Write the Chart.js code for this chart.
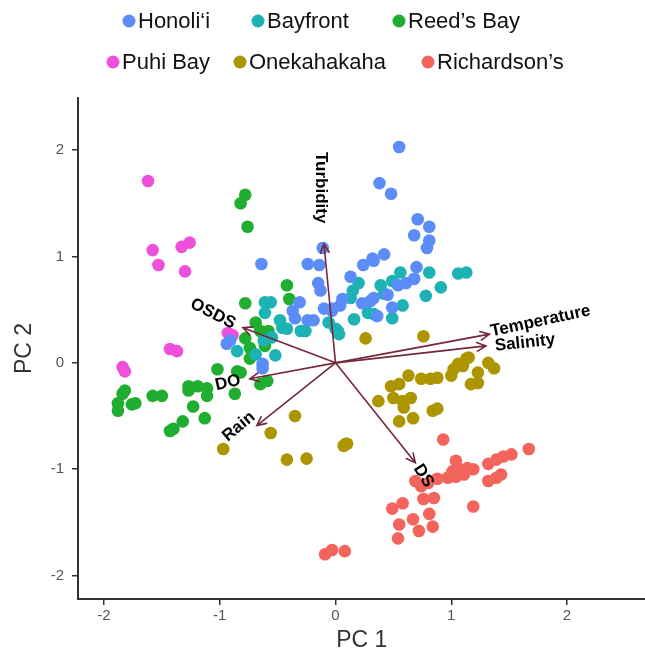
<!DOCTYPE html>
<html>
<head>
<meta charset="utf-8">
<script src="https://cdn.jsdelivr.net/npm/chart.js@4.4.1/dist/chart.umd.min.js"></script>
<style>
  html, body { margin: 0; padding: 0; background: #fff; overflow: hidden; }
  #pca { display: block; }
</style>
</head>
<body>
<canvas id="pca" width="652" height="656"></canvas>
<script>
// sites
var sites = ['Honoli\u2018i', 'Bayfront', 'Reed\u2019s Bay', 'Puhi Bay', 'Onekahakaha', 'Richardson\u2019s'];
var siteColors = ['#5b8cf7', '#1db3b5', '#1fae2f', '#ee4fdb', '#ad9500', '#f2645c'];

// sample scores (PC1 / PC2)
var honoliiX = [0.55,0.38,0.48,0.71,0.81,0.68,0.81,0.79,-0.11,0.42,0.32,-0.64,-0.24,-0.14,-0.15,-0.13,-0.31,-0.37,-0.35,-0.24,-0.19,-0.10,-0.03,-0.91,-0.94,-0.63,-0.63,0.33,0.24,0.13,0.70,0.68,0.61,0.54,0.33,0.30,0.23,0.04,-0.03,0.49,0.36,0.45,0.06];
var honoliiY = [2.03,1.69,1.59,1.35,1.28,1.20,1.15,1.08,1.08,1.02,0.98,0.93,0.93,0.92,0.75,0.68,0.57,0.49,0.42,0.40,0.40,0.51,0.51,0.21,0.18,-0.01,-0.05,0.96,0.92,0.81,0.90,0.79,0.75,0.73,0.61,0.58,0.56,0.54,0.49,0.52,0.44,0.64,0.60];
var bayfrontX = [0.81,1.06,1.13,0.91,0.78,0.56,0.49,0.39,0.42,0.20,0.15,0.13,0.58,0.28,0.33,0.49,0.16,0.00,0.03,-0.61,-0.56,-0.61,-0.48,-0.46,-0.42,-0.30,-0.26,-0.06,0.02,-0.55,-0.62,-0.85,-0.52,-0.69];
var bayfrontY = [0.85,0.84,0.85,0.71,0.63,0.85,0.77,0.73,0.65,0.75,0.68,0.61,0.54,0.47,0.46,0.42,0.41,0.32,0.27,0.57,0.57,0.47,0.40,0.33,0.32,0.30,0.30,0.38,0.30,0.24,0.21,0.11,0.07,0.08];
var reedsX = [-0.78,-0.82,-0.76,-0.42,-0.40,-0.78,-0.69,-0.78,-0.65,-0.58,-0.74,-0.61,-0.74,-1.02,-0.85,-1.84,-1.82,-1.73,-1.88,-1.88,-1.76,-1.58,-1.50,-1.27,-1.27,-1.19,-1.11,-1.11,-0.87,-1.23,-1.13,-1.32,-1.40,-1.43,-0.65,-0.59,-0.82];
var reedsY = [1.58,1.50,1.28,0.73,0.60,0.56,0.38,0.23,0.30,0.30,0.14,0.16,0.04,-0.06,-0.08,-0.29,-0.26,-0.38,-0.38,-0.45,-0.39,-0.31,-0.31,-0.22,-0.26,-0.22,-0.24,-0.31,-0.29,-0.41,-0.52,-0.55,-0.62,-0.64,-0.20,-0.17,-0.09];
var puhiX = [-1.62,-1.58,-1.53,-1.33,-1.26,-1.30,-0.93,-0.89,-1.84,-1.82,-1.43,-1.37];
var puhiY = [1.71,1.06,0.92,1.09,1.13,0.86,0.28,0.26,-0.04,-0.08,0.13,0.11];
var onekaX = [-0.97,-0.56,-0.35,-0.42,-0.25,0.09,0.10,0.07,0.26,0.76,0.37,0.48,0.55,0.50,0.58,0.65,0.59,0.63,0.74,0.82,0.88,1.00,1.02,1.06,1.13,1.15,1.23,1.23,1.17,1.32,1.37,0.84,0.88,0.55,0.67,1.10];
var onekaY = [-0.81,-0.66,-0.50,-0.91,-0.90,-0.76,-0.76,-0.78,0.23,0.25,-0.36,-0.22,-0.20,-0.33,-0.36,-0.33,-0.42,-0.12,-0.15,-0.15,-0.14,-0.12,-0.06,-0.01,0.04,0.05,-0.09,-0.19,-0.20,0.00,-0.05,-0.45,-0.43,-0.55,-0.52,-0.03];
var richX = [-0.09,-0.03,0.08,0.93,0.69,0.74,0.80,0.88,0.97,1.01,1.06,1.14,1.11,1.04,1.19,1.32,1.39,1.45,1.52,1.32,1.39,1.43,0.76,0.85,0.49,0.58,0.81,1.19,0.67,0.55,0.84,0.72,0.54,1.67,1.04];
var richY = [-1.80,-1.76,-1.77,-0.72,-1.11,-1.16,-1.13,-1.09,-1.08,-1.02,-0.99,-0.99,-1.05,-1.07,-1.00,-0.95,-0.91,-0.88,-0.86,-1.11,-1.08,-1.05,-1.28,-1.27,-1.37,-1.32,-1.42,-1.35,-1.47,-1.52,-1.54,-1.58,-1.65,-0.81,-0.92];

// variable loadings (arrows)
var vars = ['Turbidity', 'OSDS', 'DO', 'Rain', 'Temperature', 'Salinity', 'DS'];
var loadPC1 = [-0.10, -0.80, -0.74, -0.68, 1.33, 1.30, 0.69];
var loadPC2 = [1.12, 0.33, -0.15, -0.59, 0.27, 0.16, -0.94];

// axis ticks
var xTicks = [-2, -1, 0, 1, 2];
var yTicks = [-2, -1, 0, 1, 2];

// label placement (pixels from arrow tip, degrees)
var labelDx = [-3, -30, -22, -18, 51, 39, 8];
var labelDy = [-56, -14, 4, 1, -13, -3, 13];
var labelRot = [90, 27, -13, -40, -12, -6, 58];

var siteXs = [honoliiX, bayfrontX, reedsX, puhiX, onekaX, richX];
var siteYs = [honoliiY, bayfrontY, reedsY, puhiY, onekaY, richY];

var datasets = sites.map(function(name, i){
	return {
		label: name,
		data: siteXs[i].map(function(x, j){ return {x: x, y: siteYs[i][j]}; }),
		backgroundColor: siteColors[i],
		borderWidth: 0,
		pointRadius: 6.3,
		pointHoverRadius: 6.3
	};
});

var arrowColor = '#74283a';

var biplot = {
	id: 'biplot',
	afterDatasetsDraw: function(chart){
		var c = chart.ctx, xs = chart.scales.x, ys = chart.scales.y;
		var ox = xs.getPixelForValue(0), oy = ys.getPixelForValue(0);
		c.save();
		c.strokeStyle = arrowColor;
		c.lineWidth = 1.6;
		c.lineCap = 'round';
		vars.forEach(function(v, i){
			var tx = xs.getPixelForValue(loadPC1[i]), ty = ys.getPixelForValue(loadPC2[i]);
			var a = Math.atan2(ty - oy, tx - ox), h = 10, w = 0.45;
			c.beginPath();
			c.moveTo(ox, oy); c.lineTo(tx, ty);
			c.moveTo(tx - h * Math.cos(a - w), ty - h * Math.sin(a - w));
			c.lineTo(tx, ty);
			c.lineTo(tx - h * Math.cos(a + w), ty - h * Math.sin(a + w));
			c.stroke();
		});
		c.fillStyle = '#000';
		c.font = 'bold 17px "Liberation Sans", Arial, sans-serif';
		c.textAlign = 'center';
		c.textBaseline = 'middle';
		vars.forEach(function(v, i){
			var tx = xs.getPixelForValue(loadPC1[i]), ty = ys.getPixelForValue(loadPC2[i]);
			c.save();
			c.translate(tx + labelDx[i], ty + labelDy[i]);
			c.rotate(labelRot[i] * Math.PI / 180);
			c.fillText(v, 0, 0);
			c.restore();
		});
		c.restore();
	},
	afterDraw: function(chart){
		// legend, two rows like the original
		var c = chart.ctx;
		var pos = [[129, 21], [258, 21], [399, 21], [113, 62], [240, 62], [428, 62]];
		c.save();
		c.font = '22px "Liberation Sans", Arial, sans-serif';
		c.textBaseline = 'middle';
		c.textAlign = 'left';
		sites.forEach(function(s, i){
			c.fillStyle = siteColors[i];
			c.beginPath();
			c.arc(pos[i][0], pos[i][1], 6.5, 0, Math.PI * 2);
			c.fill();
			c.fillStyle = '#111';
			c.fillText(s, pos[i][0] + 9, pos[i][1] + 1);
		});
		c.restore();
	}
};

var axisFont = {family: '"Liberation Sans", Arial, sans-serif', size: 15};
var titleFont = {family: '"Liberation Sans", Arial, sans-serif', size: 23};

var chart = new Chart(document.getElementById('pca').getContext('2d'), {
	type: 'scatter',
	data: {datasets: datasets},
	options: {
		responsive: false,
		animation: false,
		events: [],
		layout: {padding: {top: 98, right: 0, left: 0, bottom: 0}},
		plugins: {legend: {display: false}, tooltip: {enabled: false}},
		scales: {
			x: {
				type: 'linear', min: -2.225, max: 2.68,
				afterBuildTicks: function(s){ s.ticks = xTicks.map(function(v){ return {value: v}; }); },
				afterFit: function(s){ s.height = 57; },
				grid: {drawOnChartArea: false, drawTicks: true, tickLength: 6, color: '#333', lineWidth: 1.5},
				border: {display: true, color: '#333', width: 2},
				ticks: {color: '#555', font: axisFont, padding: 2, maxRotation: 0},
				title: {display: true, text: 'PC 1', color: '#333', font: titleFont, padding: {top: 0, bottom: 2}}
			},
			y: {
				type: 'linear', min: -2.22, max: 2.49,
				afterBuildTicks: function(s){ s.ticks = yTicks.map(function(v){ return {value: v}; }); },
				afterFit: function(s){ s.width = 78; },
				grid: {drawOnChartArea: false, drawTicks: true, tickLength: 6, color: '#333', lineWidth: 1.5},
				border: {display: true, color: '#333', width: 2},
				ticks: {color: '#555', font: axisFont, padding: 8},
				title: {display: true, text: 'PC 2', color: '#333', font: titleFont, padding: {top: 11, bottom: 0}}
			}
		}
	},
	plugins: [biplot]
});
</script>
</body>
</html>
